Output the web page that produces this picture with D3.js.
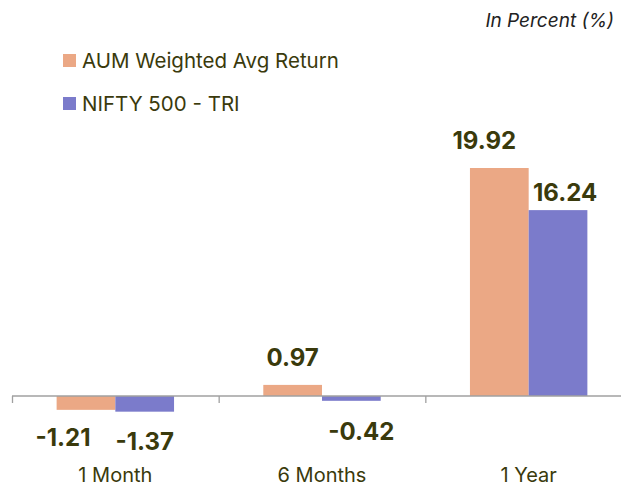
<!DOCTYPE html>
<html><head><meta charset="utf-8">
<script src="https://cdn.jsdelivr.net/npm/d3@7"></script>
<style>body{margin:0;background:#fff}svg{display:block;font-family:Inter,"Open Sans",sans-serif}</style>
</head><body><svg id="c" width="621" height="486"></svg>
<script>
const categories = ["1 Month", "6 Months", "1 Year"];
const seriesNames = ["AUM Weighted Avg Return", "NIFTY 500 - TRI"];
const aumReturn = [-1.21, 0.97, 19.92];
const niftyTri = [-1.37, -0.42, 16.24];
const colors = ["#EBA885", "#7B7BCB"];
const textColor = "#3a3a0c";

const svg = d3.select("#c");
const x0 = d3.scaleBand().domain(categories).range([12, 632]).paddingInner(0).paddingOuter(0);
const x1 = d3.scaleBand().domain([0,1]).range([0, x0.bandwidth()]).paddingInner(0).paddingOuter(0.76);
const y = d3.scaleLinear().domain([0, 19.92]).range([396, 168]);

const series = [aumReturn, niftyTri];
// label nudges (dx, dy) to mimic manual placement
const nudges = [[[-23,0],[0,0],[-15,0]],[[0,2],[10,3],[7,10]]];

series.forEach((vals, s) => {
  svg.selectAll(".b" + s).data(vals).enter().append("rect")
    .attr("x", (d, i) => x0(categories[i]) + x1(s))
    .attr("width", x1.bandwidth())
    .attr("y", d => y(Math.max(0, d)))
    .attr("height", d => Math.abs(y(d) - y(0)))
    .attr("fill", colors[s]);
  svg.selectAll(".l" + s).data(vals).enter().append("text")
    .attr("x", (d, i) => x0(categories[i]) + x1(s) + x1.bandwidth() / 2 + nudges[s][i][0])
    .attr("y", (d, i) => (d >= 0 ? y(d) - 19 : y(d) + 36) + nudges[s][i][1])
    .attr("text-anchor", "middle")
    .attr("font-size", 24).attr("font-weight", 700).attr("fill", textColor)
    .text(d => d.toFixed(2));
});

// axis
const axis = svg.append("g").attr("transform", `translate(0,${y(0)})`)
  .call(d3.axisBottom(x0).tickSize(0).tickPadding(0));
axis.select(".domain").remove();
axis.selectAll("text").remove();
svg.append("line").attr("x1", 12).attr("x2", 621).attr("y1", y(0)).attr("y2", y(0))
  .attr("stroke", "#a0a0a0").attr("stroke-width", 1.3);
const tickXs = categories.map(c => x0(c));
svg.selectAll(".tk").data(tickXs).enter().append("line")
  .attr("x1", d => d + 0.5).attr("x2", d => d + 0.5)
  .attr("y1", y(0)).attr("y2", y(0) + 7).attr("stroke", "#a0a0a0").attr("stroke-width", 1.3);
svg.selectAll(".cl").data(categories).enter().append("text")
  .attr("x", d => x0(d) + x0.bandwidth() / 2).attr("y", 482)
  .attr("text-anchor", "middle").attr("font-size", 20).attr("fill", textColor).text(d => d);

// legend
seriesNames.forEach((n, i) => {
  const ly = 61 + i * 43;
  svg.append("rect").attr("x", 63).attr("y", ly - 7).attr("width", 13).attr("height", 13).attr("fill", colors[i]);
  svg.append("text").attr("x", 82).attr("y", ly + 7).attr("font-size", 20.5).attr("fill", textColor).text(n);
});

svg.append("text").attr("x", 614).attr("y", 27).attr("text-anchor", "end")
  .attr("font-size", 19).attr("font-style", "italic").attr("fill", "#222").text("In Percent (%)");
</script></body></html>
